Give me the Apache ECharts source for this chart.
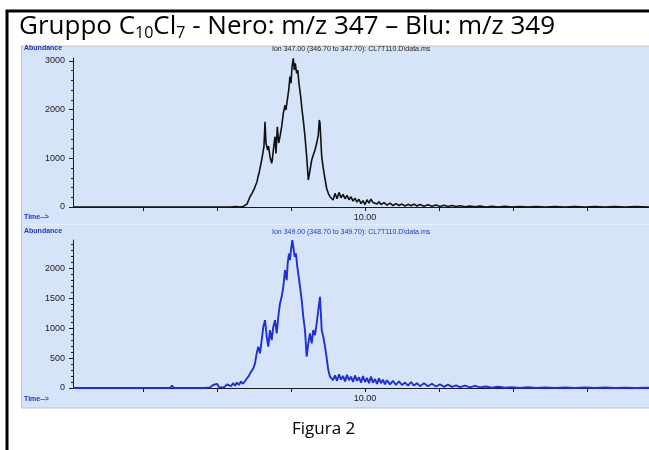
<!DOCTYPE html>
<html>
<head>
<meta charset="utf-8">
<script src="https://cdn.jsdelivr.net/npm/echarts@6/dist/echarts.min.js"></script>
<style>
  html, body { margin: 0; padding: 0; background: #ffffff; }
  #chart { width: 649px; height: 450px; }
</style>
</head>
<body>
<div id="chart"></div>
<script>
// Retention time (min) and abundance for m/z 347 (black trace)
const timeM347 = [
  6.054, 6.959, 7.770, 7.959, 7.986, 8.014, 8.122, 8.149, 8.176, 8.257, 8.284, 8.311, 8.351, 8.378,
  8.405, 8.446, 8.473, 8.500, 8.514, 8.541, 8.554, 8.568, 8.581, 8.604, 8.626, 8.635, 8.649, 8.662,
  8.685, 8.696, 8.716, 8.739, 8.750, 8.761, 8.784, 8.797, 8.815, 8.834, 8.851, 8.874, 8.896, 8.919,
  8.932, 8.950, 8.969, 8.986, 9.000, 9.014, 9.031, 9.045, 9.058, 9.077, 9.091, 9.108, 9.131, 9.149,
  9.166, 9.189, 9.212, 9.234, 9.257, 9.280, 9.301, 9.324, 9.347, 9.369, 9.382, 9.392, 9.415, 9.436,
  9.459, 9.482, 9.504, 9.527, 9.568,
  9.595, 9.622, 9.649, 9.676, 9.703, 9.730, 9.757, 9.784, 9.811, 9.838, 9.865, 9.892, 9.919, 9.946,
  9.973, 10.000, 10.027, 10.054, 10.081, 10.108, 10.135, 10.162, 10.189, 10.216,
  10.257, 10.297, 10.338, 10.378, 10.419, 10.459, 10.500, 10.541, 10.581, 10.622, 10.662, 10.703, 10.743,
  10.797, 10.851, 10.905, 10.959, 11.014, 11.068, 11.122, 11.176, 11.230, 11.284,
  11.351, 11.419, 11.486, 11.554, 11.635, 11.716, 11.797, 11.892, 11.986, 12.095, 12.203, 12.311,
  12.432, 12.568, 12.703, 12.838, 12.973, 13.108, 13.243, 13.378, 13.514, 13.649, 13.838
];
const abundM347 = [
  0, 0, 0, 0, 25, 0, 0, 15, 0, 10, 20, 0, 10, 5,
  60, 210, 280, 360, 417, 520, 622, 692, 795, 965, 1170, 1250, 1752, 1308,
  1170, 1250, 1033, 897, 1000, 1170, 1444, 1100, 1649, 1314, 1444, 1649, 1924, 2094,
  1992, 2197, 2402, 2676, 2540, 2881, 3053, 2813, 2951, 2745, 2813, 2540, 2265, 1992,
  1786, 1444, 1033, 554, 760, 965, 1068, 1170, 1308, 1478, 1786, 1720, 1033, 800,
  580, 380, 280, 212, 144,
  280, 170, 300, 190, 260, 170, 240, 150, 210, 120, 180, 100, 160, 70,
  130, 50, 150, 80, 160, 90, 130, 60, 110, 50,
  90, 40, 80, 30, 70, 30, 60, 20, 55, 25, 60, 20, 50,
  15, 45, 15, 40, 10, 35, 10, 30, 10, 25,
  5, 20, 5, 18, 0, 15, 0, 12, 0, 10, 0, 10,
  0, 8, 0, 10, 0, 8, 0, 10, 0, 8, 0
];

// Retention time (min) and abundance for m/z 349 (blue trace)
const timeM349 = [
  6.054, 6.932, 6.959, 6.986, 7.365, 7.392, 7.419, 7.838, 7.905, 7.946, 7.973, 8.000, 8.027, 8.054,
  8.095, 8.135, 8.162, 8.189, 8.216, 8.243, 8.270, 8.297, 8.324, 8.351, 8.378,
  8.399, 8.423, 8.446, 8.469, 8.491, 8.514, 8.536, 8.558, 8.581, 8.604, 8.626, 8.649, 8.672, 8.693,
  8.716, 8.739, 8.761, 8.784, 8.807, 8.828, 8.851, 8.874, 8.896, 8.919, 8.942, 8.955, 8.973, 8.986,
  9.000, 9.018, 9.031, 9.050, 9.068, 9.085, 9.104, 9.122, 9.145, 9.166, 9.189, 9.212, 9.234, 9.257,
  9.280, 9.301, 9.324, 9.347, 9.369, 9.392, 9.415, 9.436, 9.459, 9.482, 9.504, 9.527, 9.568,
  9.595, 9.622, 9.649, 9.676, 9.703, 9.730, 9.757, 9.784, 9.811, 9.838, 9.865, 9.892, 9.919, 9.946,
  9.973, 10.000, 10.027, 10.054, 10.081, 10.108, 10.135, 10.162, 10.189, 10.216, 10.243, 10.270, 10.297,
  10.338, 10.378, 10.419, 10.459, 10.500, 10.541, 10.581, 10.622, 10.662, 10.703, 10.743,
  10.797, 10.851, 10.905, 10.959, 11.014, 11.068, 11.122, 11.176, 11.230, 11.284,
  11.351, 11.419, 11.486, 11.554, 11.635, 11.716, 11.797, 11.892, 11.986, 12.095, 12.203, 12.311,
  12.432, 12.568, 12.703, 12.838, 12.973, 13.108, 13.243, 13.378, 13.514, 13.649, 13.838
];
const abundM349 = [
  0, 0, 20, 0, 0, 40, 0, 0, 10, 50, 20, 70, 15, 40,
  10, 60, 90, 30, 80, 40, 90, 50, 110, 70, 78,
  150, 189, 240, 272, 330, 411, 578, 689, 578, 800, 1022, 1133, 856, 689,
  967, 800, 1022, 1133, 911, 1189, 1411, 1522, 1689, 1967, 1800, 2078, 2244, 2133,
  2300, 2467, 2356, 2189, 2244, 2022, 1856, 1689, 1467, 1189, 967, 522, 744, 911,
  744, 967, 883, 1078, 1300, 1522, 967, 856, 700, 500, 300, 189, 133,
  210, 120, 230, 140, 200, 110, 220, 130, 190, 100, 210, 120, 180, 90,
  200, 100, 170, 80, 190, 90, 150, 70, 160, 80, 140, 60, 130,
  60, 120, 50, 110, 50, 90, 40, 100, 40, 80, 30,
  80, 30, 70, 25, 60, 20, 55, 20, 45, 15,
  40, 10, 35, 10, 25, 5, 20, 5, 15, 0, 12, 0,
  10, 0, 8, 0, 10, 0, 8, 0, 6, 0, 5
];

// Axis ticks and labels
const timeTicks = [7, 8, 9, 10, 11, 12, 13];
const timeLabels = [10];
const topAbundTicks = [0, 1000, 2000, 3000];
const bottomAbundTicks = [0, 500, 1000, 1500, 2000];

const zip = (xs, ys) => xs.map((x, i) => [x, ys[i]]);

const labelFont = 'Liberation Sans';
const axisBlue = '#2233c4';

function timeAxis(gridIndex) {
  return {
    type: 'value', gridIndex: gridIndex, min: 6.054, max: 13.838,
    axisLine: { show: true, onZero: false, lineStyle: { color: '#1a1a1a', width: 1 } },
    axisTick: { show: true, length: 4, customValues: timeTicks, lineStyle: { color: '#1a1a1a' } },
    axisLabel: { customValues: timeLabels, formatter: v => v.toFixed(2), fontSize: 9,
                 fontFamily: labelFont, color: '#1a1a1a', margin: 6 },
    splitLine: { show: false }
  };
}

function abundAxis(gridIndex, max, interval, labels) {
  return {
    type: 'value', gridIndex: gridIndex, min: 0, max: max, interval: interval,
    axisLine: { show: true, lineStyle: { color: '#1a1a1a', width: 1 } },
    axisTick: { show: true, length: 4, customValues: labels, lineStyle: { color: '#1a1a1a' } },
    minorTick: { show: true, splitNumber: 5, length: 2, lineStyle: { color: '#1a1a1a' } },
    axisLabel: { customValues: labels, formatter: v => String(v), fontSize: 9,
                 fontFamily: labelFont, color: '#1a1a1a', margin: 8 },
    splitLine: { show: false }, minorSplitLine: { show: false }
  };
}

const chart = echarts.init(document.getElementById('chart'), null, { renderer: 'canvas' });

chart.setOption({
  backgroundColor: '#ffffff',
  animation: false,
  grid: [
    { left: 73, top: 58, width: 576, height: 149 },
    { left: 73, top: 240, width: 576, height: 148 }
  ],
  xAxis: [timeAxis(0), timeAxis(1)],
  yAxis: [abundAxis(0, 3060, 1000, topAbundTicks), abundAxis(1, 2470, 500, bottomAbundTicks)],
  series: [
    {
      name: 'm/z 347', type: 'line', xAxisIndex: 0, yAxisIndex: 0,
      data: zip(timeM347, abundM347), showSymbol: false, symbol: 'none',
      lineStyle: { color: '#111111', width: 1.6 }, z: 5
    },
    {
      name: 'm/z 349', type: 'line', xAxisIndex: 1, yAxisIndex: 1,
      data: zip(timeM349, abundM349), showSymbol: false, symbol: 'none',
      lineStyle: { color: '#1f2fd8', width: 1.9 }, z: 5
    }
  ],
  graphic: [
    // light blue plot panel
    { type: 'rect', z: -100, shape: { x: 21.5, y: 46, width: 640, height: 362 },
      style: { fill: '#d6e4f9', stroke: '#b9c0c9', lineWidth: 1 } },
    { type: 'line', z: -90, shape: { x1: 22, y1: 224.5, x2: 649, y2: 224.5 },
      style: { stroke: '#e6eef9', lineWidth: 1 } },
    // outer frame
    { type: 'rect', z: 10, shape: { x: 7, y: 11, width: 700, height: 500 },
      style: { fill: null, stroke: '#000000', lineWidth: 3 } },
    // heading
    { type: 'text', z: 10, left: 19, top: 14,
      style: {
        text: 'Gruppo C{sub|10}Cl{sub|7} - Nero: m/z 347 – Blu: m/z 349',
        font: '26px "Open Sans"', fill: '#000000',
        rich: {
          sub: { fontSize: 16, fontFamily: 'Open Sans', verticalAlign: 'bottom', padding: [12, 0, 0, 0] }
        }
      } },
    { type: 'text', z: 10, left: 292, top: 421,
      style: { text: 'Figura 2', font: '17px "Open Sans"', fill: '#000000' } },
    // panel annotations
    { type: 'text', z: 10, left: 24, top: 45,
      style: { text: 'Abundance', font: 'bold 7px "Liberation Sans"', fill: axisBlue } },
    { type: 'text', z: 10, left: 24, top: 214,
      style: { text: 'Time-->', font: 'bold 7px "Liberation Sans"', fill: axisBlue } },
    { type: 'text', z: 10, left: 24, top: 228,
      style: { text: 'Abundance', font: 'bold 7px "Liberation Sans"', fill: axisBlue } },
    { type: 'text', z: 10, left: 24, top: 396,
      style: { text: 'Time-->', font: 'bold 7px "Liberation Sans"', fill: axisBlue } },
    { type: 'text', z: 10, left: 272, top: 46,
      style: { text: 'Ion 347.00 (346.70 to 347.70): CL7T110.D\\data.ms', font: '7px "Liberation Sans"', fill: '#222222' } },
    { type: 'text', z: 10, left: 272, top: 229,
      style: { text: 'Ion 349.00 (348.70 to 349.70): CL7T110.D\\data.ms', font: '7px "Liberation Sans"', fill: axisBlue } }
  ]
});
</script>
</body>
</html>
